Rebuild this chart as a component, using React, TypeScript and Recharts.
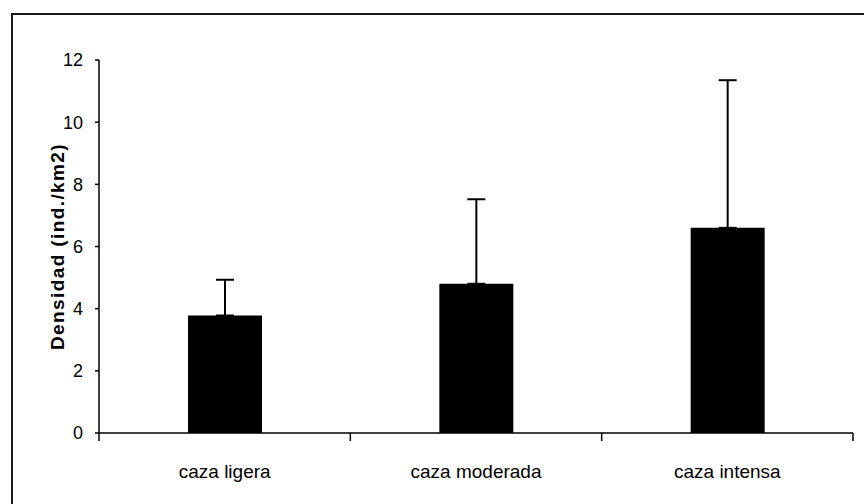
import { BarChart, Bar, XAxis, YAxis, ErrorBar } from 'recharts';

// densidad media por intensidad de caza, con error (solo hacia arriba)
const categories = ['caza ligera', 'caza moderada', 'caza intensa'];
const densidad = [3.78, 4.8, 6.6];
const errorSup = [1.15, 2.72, 4.75];
const yTicks = [0, 2, 4, 6, 8, 10, 12];

// x is numeric: category i sits at i + 0.5, separator ticks at the integers
const data = categories.map((name, i) => ({
  name,
  pos: i + 0.5,
  densidad: densidad[i],
  err: [0, errorSup[i]],
}));
const xTicks = [0, ...categories.flatMap((_, i) => [i + 0.5, i + 1])];

const FONT = '"Liberation Sans", Arial, sans-serif';

const XTick = (props: any) => {
  const { x, y, payload } = props;
  const v = payload.value;
  if (Number.isInteger(v)) {
    return <line x1={x} x2={x} y1={y} y2={y + 8} stroke="#000" strokeWidth={1.5} />;
  }
  return (
    <text x={x} y={y + 45} textAnchor="middle" fontSize={19} fontFamily={FONT} fill="#000">
      {categories[Math.floor(v)]}
    </text>
  );
};

const YLabel = (props: any) => {
  const { viewBox } = props;
  const cx = viewBox.x + 18;
  const cy = viewBox.y + viewBox.height / 2;
  return (
    <text
      x={cx}
      y={cy}
      transform={`rotate(-90, ${cx}, ${cy})`}
      textAnchor="middle"
      dominantBaseline="central"
      fontFamily={FONT}
      fontWeight="bold"
      fontSize={19}
      letterSpacing={1.4}
      fill="#000"
    >
      Densidad (ind./km2)
    </text>
  );
};

export default function App() {
  return (
    <div
      style={{
        position: 'absolute',
        left: 0,
        top: 0,
        width: 864,
        height: 504,
        background: '#fff',
        overflow: 'hidden',
      }}
    >
      <div
        style={{
          position: 'absolute',
          left: 11,
          top: 13,
          width: 900,
          height: 600,
          border: '2px solid #1a1a1a',
        }}
      />
      <div style={{ position: 'absolute', left: 0, top: 0 }}>
        <BarChart
          width={864}
          height={504}
          data={data}
          margin={{ top: 60, right: 11, bottom: 21, left: 39 }}
        >
          <XAxis
            dataKey="pos"
            type="number"
            domain={[0, 3]}
            ticks={xTicks}
            interval={0}
            allowDataOverflow
            tickSize={0}
            tickMargin={0}
            tickLine={false}
            tick={<XTick />}
            axisLine={{ stroke: '#000', strokeWidth: 1.5 }}
            height={50}
          />
          <YAxis
            domain={[0, 12]}
            ticks={yTicks}
            width={60}
            tickSize={4}
            tickMargin={12}
            tick={{ fontSize: 18, fill: '#000', fontFamily: FONT }}
            tickLine={{ stroke: '#000', strokeWidth: 1.5 }}
            axisLine={{ stroke: '#000', strokeWidth: 1.5 }}
            label={<YLabel />}
          />
          <Bar dataKey="densidad" fill="#000" barSize={74} isAnimationActive={false}>
            <ErrorBar dataKey="err" width={9} stroke="#000" strokeWidth={2} direction="y" />
          </Bar>
        </BarChart>
      </div>
    </div>
  );
}
